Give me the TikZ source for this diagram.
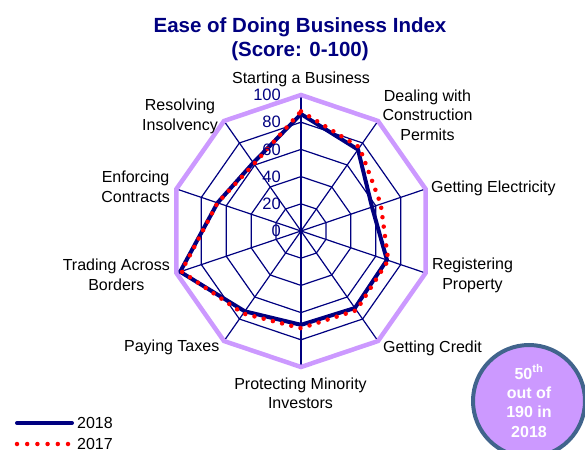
\documentclass[tikz,border=0pt]{standalone}
\usepackage{fontspec}
\setmainfont{Liberation Sans}
\definecolor{navyc}{HTML}{000080}
\definecolor{lav}{HTML}{CC99FF}
\definecolor{redc}{HTML}{FF0000}
\definecolor{badgeedge}{HTML}{41648C}
\definecolor{badgefill}{HTML}{CC99FF}
\tikzset{
  gridline/.style={draw=navyc, line width=1.2bp},
  outerring/.style={draw=lav, line width=4.5bp, line join=miter},
  line2018/.style={draw=navyc, line width=4bp, line join=round, line cap=round},
  line2017/.style={draw=redc, line width=4.5bp, line cap=round, dash pattern=on 0bp off 9.5bp},
  legdots/.style={draw=redc, line width=4.5bp, line cap=round, dash pattern=on 0bp off 10.2bp},
  axislbl/.style={font=\fontsize{16bp}{19.5bp}\selectfont, inner sep=0pt, align=center, text=black},
  scalelbl/.style={font=\fontsize{16.5bp}{19bp}\selectfont, inner sep=0pt, text=navyc},
  titlelbl/.style={font=\fontsize{20.5bp}{24bp}\selectfont\bfseries, inner sep=0pt, align=center, text=navyc},
  badge/.style={circle, draw=badgeedge, line width=4bp, fill=badgefill, minimum size=112bp, inner sep=0pt, align=center, text=white, font=\fontsize{16bp}{19.3bp}\selectfont\bfseries},
}
\begin{document}
\begin{tikzpicture}[x=1bp,y=-1bp]
\useasboundingbox (0,0) rectangle (585,450);
\def\cx{301}\def\cy{231}\def\rx{1.31}\def\ry{1.36}
\coordinate (c) at (\cx,\cy);
% axis end points
\foreach \i in {0,...,9}{
  \coordinate (o\i) at ({\cx+\rx*100*cos(90-36*\i)},{\cy-\ry*100*sin(90-36*\i)});
}
% inner rings
\foreach \r in {20,40,60,80}{
  \draw[gridline] ({\cx+\rx*\r*cos(90)},{\cy-\ry*\r*sin(90)})
    \foreach \k in {1,...,9}{ -- ({\cx+\rx*\r*cos(90-36*\k)},{\cy-\ry*\r*sin(90-36*\k)}) } -- cycle;
}
% spokes
\foreach \i in {0,...,9}{ \draw[gridline] (c) -- (o\i); }
% outer ring
\draw[outerring] (o0) -- (o1) -- (o2) -- (o3) -- (o4) -- (o5) -- (o6) -- (o7) -- (o8) -- (o9) -- cycle;
% data
\foreach \v [count=\i from 0] in {86,74,57,69,70,69,73,97,67,62}{
  \coordinate (n\i) at ({\cx+\rx*\v*cos(90-36*\i)},{\cy-\ry*\v*sin(90-36*\i)});
}
\foreach \v [count=\i from 0] in {88,76,64,70,72,71.5,75,96,67,61}{
  \coordinate (p\i) at ({\cx+\rx*\v*cos(90-36*\i)},{\cy-\ry*\v*sin(90-36*\i)});
}
\draw[line2018] (n0) -- (n1) -- (n2) -- (n3) -- (n4) -- (n5) -- (n6) -- (n7) -- (n8) -- (n9) -- cycle;
\draw[line2017] (p0) -- (p1) -- (p2) -- (p3) -- (p4) -- (p5) -- (p6) -- (p7) -- (p8) -- (p9) -- cycle;
% scale labels
\foreach \v in {0,20,40,60,80,100}{
  \node[scalelbl, anchor=east] (s\v) at (281,{\cy-\ry*\v}) {\v};
}
% title
\node[titlelbl, anchor=base] (title) at (300,56.5) {Ease of Doing Business Index\\(Score: 0-100)};
% axis labels
\node[axislbl, anchor=base] (l0) at (301,83.5) {Starting a Business};
\node[axislbl, anchor=base] (l1) at (427.5,140.5) {Dealing with\\Construction\\Permits};
\node[axislbl, anchor=base west] (l2) at (431,192.5) {Getting Electricity};
\node[axislbl, anchor=base] (l3) at (472.5,289.5) {Registering\\Property};
\node[axislbl, anchor=base west] (l4) at (383,352.5) {Getting Credit};
\node[axislbl, anchor=base] (l5) at (300.5,408.5) {Protecting Minority\\Investors};
\node[axislbl, anchor=base east] (l6) at (219.5,351.5) {Paying Taxes};
\node[axislbl, anchor=base east] (l7) at (170,290.5) {Trading Across\\Borders};
\node[axislbl, anchor=base east] (l8) at (170,202.5) {Enforcing\\Contracts};
\node[axislbl, anchor=base east] (l9) at (218,130.5) {Resolving\\Insolvency};
% badge
\node[badge] (badge) at (529,401) {50\textsuperscript{th}\\out of\\190 in\\2018};
% legend
\coordinate (la) at (17,423);
\coordinate (lb) at (72,423);
\coordinate (ma) at (17,444);
\coordinate (mb) at (68.5,444);
\draw[line2018] (la) -- (lb);
\draw[legdots] (ma) -- (mb);
\node[axislbl, anchor=base west] (t18) at (77,428.5) {2018};
\node[axislbl, anchor=base west] (t17) at (77,449.5) {2017};
\end{tikzpicture}
\end{document}
